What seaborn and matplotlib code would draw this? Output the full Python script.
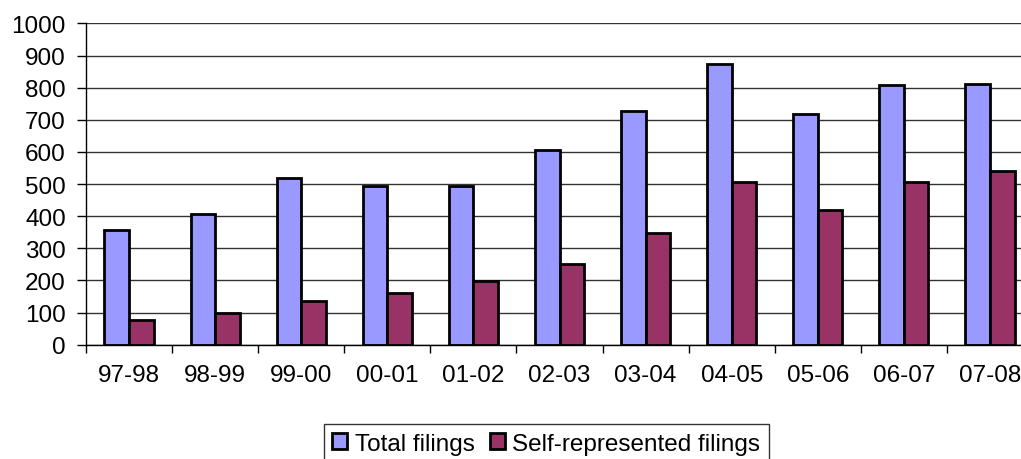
import pandas as pd
import numpy as np
import matplotlib
matplotlib.use("Agg")
import matplotlib.pyplot as plt
import seaborn as sns

periods = ['97-98', '98-99', '99-00', '00-01', '01-02', '02-03',
           '03-04', '04-05', '05-06', '06-07', '07-08']
total_filings = [358, 407, 518, 495, 495, 605, 728, 875, 719, 808, 810]
self_filings = [77, 100, 135, 162, 197, 252, 348, 507, 420, 506, 540]
series_names = ['Total filings', 'Self-represented filings']

df = pd.DataFrame({
    'period': periods * 2,
    'count': total_filings + self_filings,
    'series': [series_names[0]] * len(periods) + [series_names[1]] * len(periods),
})

sns.set_style("white")
plt.rcParams['font.family'] = ['Liberation Sans', 'DejaVu Sans']
plt.rcParams['text.color'] = 'black'
plt.rcParams['xtick.color'] = 'black'
plt.rcParams['ytick.color'] = 'black'

fig = plt.figure(figsize=(10.21, 4.6), dpi=100)
ax = fig.add_axes([0.0842, 0.2485, 0.9276, 0.6985])

ax.yaxis.grid(True, color='#333333', linewidth=1)
ax.set_axisbelow(True)
sns.barplot(data=df, x='period', y='count', hue='series', ax=ax,
            palette=['#9999FF', '#993366'], width=0.57, gap=0,
            edgecolor='black', linewidth=2, saturation=1, legend=True)

ax.set_ylim(0, 1000)
ax.set_yticks(np.arange(0, 1001, 100))
ax.set_xlim(-0.5, len(periods) - 0.5)
ax.set_xticks(np.arange(-0.5, len(periods), 1), minor=True)
ax.set_xlabel('')
ax.set_ylabel('')

for s in ['top', 'right']:
    ax.spines[s].set_visible(False)
for s in ['left', 'bottom']:
    ax.spines[s].set_color('black')
    ax.spines[s].set_linewidth(1)

ax.tick_params(axis='x', which='major', length=0, pad=14, labelsize=17.5, labelcolor='black')
ax.tick_params(axis='x', which='minor', bottom=True, length=5.5, width=1, color='black', direction='out')
ax.tick_params(axis='y', left=True, length=6.5, width=1, color='black', pad=8, labelsize=17.5,
               labelcolor='black', direction='out')

handles, labels = ax.get_legend_handles_labels()
ax.get_legend().remove()
leg = fig.legend(handles, labels, loc='upper center', ncol=2,
                 bbox_to_anchor=(0.535, 1 - 425 / 460), fontsize=17.5,
                 frameon=True, fancybox=False, edgecolor='black',
                 handlelength=0.62, handleheight=0.62, handletextpad=0.3,
                 columnspacing=0.62, borderpad=0.35, borderaxespad=0)
leg.get_frame().set_linewidth(1)
for t in leg.get_texts():
    t.set_color('black')

fig.savefig('out.png', dpi=100)
